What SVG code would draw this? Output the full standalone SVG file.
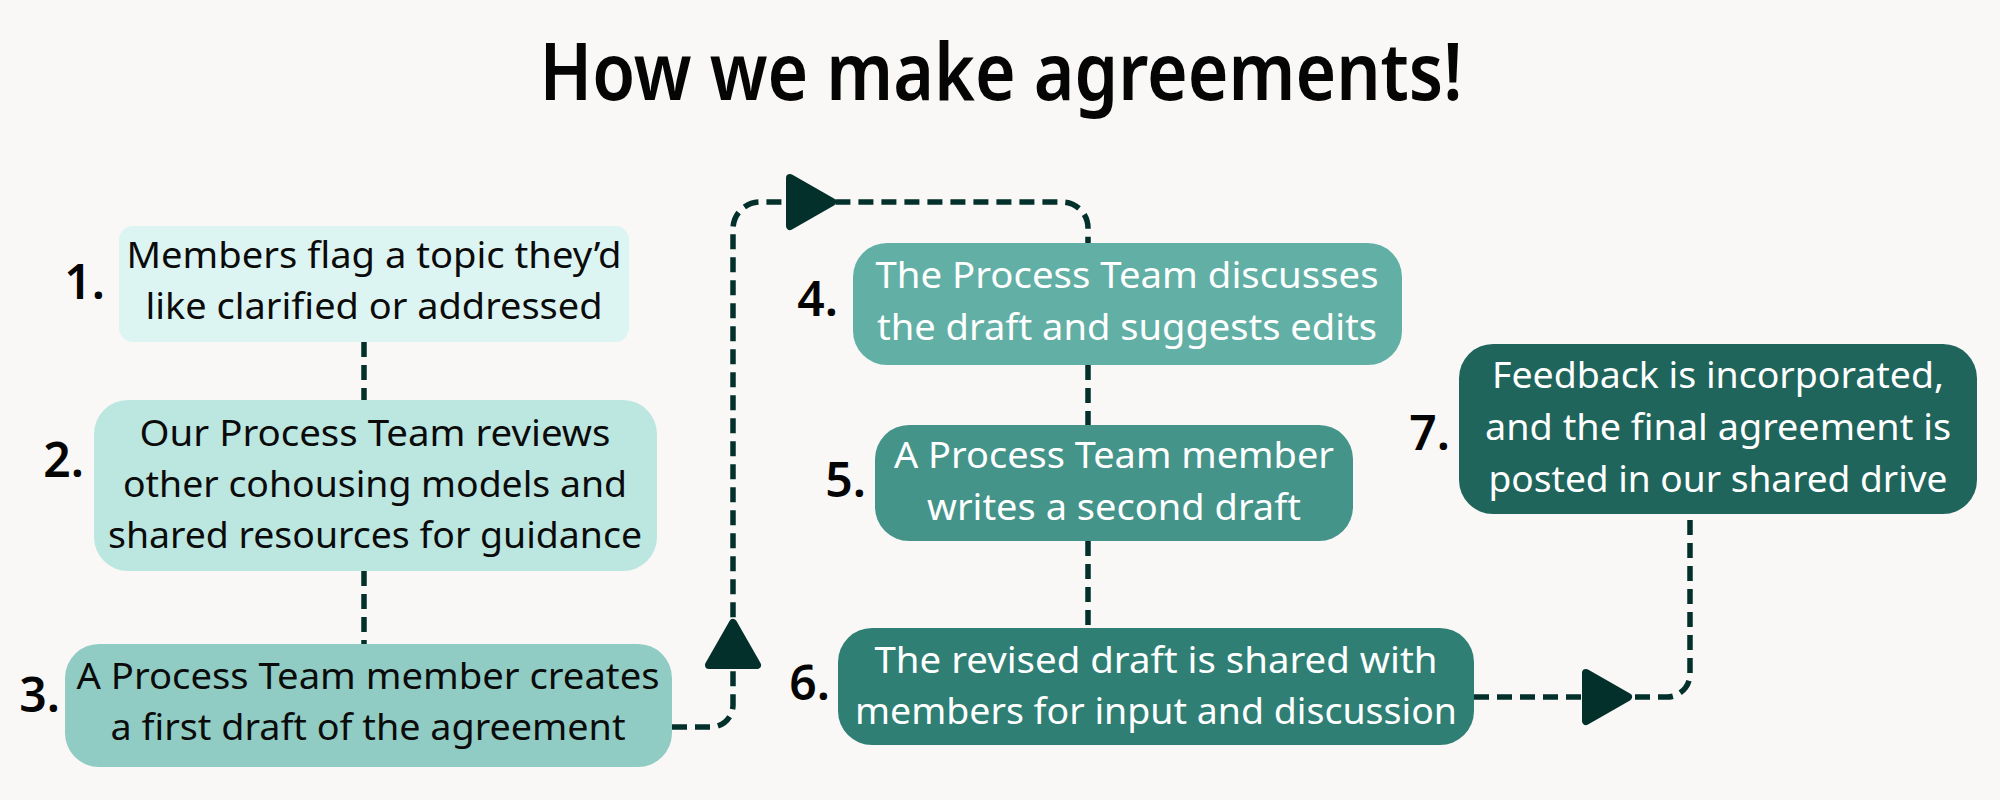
<svg xmlns="http://www.w3.org/2000/svg" width="2000" height="800" viewBox="0 0 2000 800">
<style>
.bg{fill:#F9F8F6}
.title{font-family:"Noto Sans",Lato,sans-serif;font-size:80px;font-weight:600;fill:#050505}
.num{font-family:"Noto Sans",Lato,sans-serif;font-size:48px;font-weight:600;fill:#050505;text-anchor:end}
.t{font-family:"Noto Sans",Lato,sans-serif;font-size:36px;text-anchor:middle}
.dk{fill:#0b0b0b}
.lt{fill:#FFFFFF}
.con{fill:none;stroke:#03302A;stroke-width:5.5;stroke-dasharray:15 8}
.arr{fill:#03302A;stroke:#03302A;stroke-width:8;stroke-linejoin:round}
</style>
<defs>
<path id="arrowR" d="M-21 -24 L21 0 L-21 24 Z"/>
</defs>
<rect class="bg" x="0" y="0" width="2000" height="800"/>
<text class="title" x="1001" y="100" text-anchor="middle" textLength="923" lengthAdjust="spacingAndGlyphs">How we make agreements!</text>

<g id="connectors">
<path class="con" d="M364 342 V400"/>
<path class="con" d="M364 571 V644"/>
<path class="con" d="M672 727 H711 A22 22 0 0 0 733 705 V229 A27 27 0 0 1 760 202 H1062 A26 26 0 0 1 1088 228 V243"/>
<path class="con" d="M1088 365 V425"/>
<path class="con" d="M1088 541 V628"/>
<path class="con" d="M1474 697 H1667 A23 23 0 0 0 1690 674 V514"/>
<use href="#arrowR" class="arr" transform="translate(733 644) rotate(-90)"/>
<use href="#arrowR" class="arr" transform="translate(811 202)"/>
<use href="#arrowR" class="arr" transform="translate(1607 697)"/>
</g>

<g id="node1">
<rect x="119" y="226" width="510" height="116" rx="14" fill="#DDF5F2"/>
<text class="num" x="105" y="299">1.</text>
<text class="t dk" x="374" y="268" textLength="495" lengthAdjust="spacingAndGlyphs">Members flag a topic they’d</text>
<text class="t dk" x="374" y="319" textLength="457" lengthAdjust="spacingAndGlyphs">like clarified or addressed</text>
</g>

<g id="node2">
<rect x="94" y="400" width="563" height="171" rx="34" fill="#BCE6E0"/>
<text class="num" x="84" y="477">2.</text>
<text class="t dk" x="375" y="446" textLength="471" lengthAdjust="spacingAndGlyphs">Our Process Team reviews</text>
<text class="t dk" x="375" y="497" textLength="504" lengthAdjust="spacingAndGlyphs">other cohousing models and</text>
<text class="t dk" x="375" y="548" textLength="534" lengthAdjust="spacingAndGlyphs">shared resources for guidance</text>
</g>

<g id="node3">
<rect x="65" y="644" width="607" height="123" rx="34" fill="#90CCC3"/>
<text class="num" x="60" y="712">3.</text>
<text class="t dk" x="368" y="689" textLength="583" lengthAdjust="spacingAndGlyphs">A Process Team member creates</text>
<text class="t dk" x="368" y="740" textLength="515" lengthAdjust="spacingAndGlyphs">a first draft of the agreement</text>
</g>

<g id="node4">
<rect x="853" y="243" width="549" height="122" rx="34" fill="#62B0A5"/>
<text class="num" x="838" y="316">4.</text>
<text class="t lt" x="1127" y="288" textLength="503" lengthAdjust="spacingAndGlyphs">The Process Team discusses</text>
<text class="t lt" x="1127" y="340" textLength="500" lengthAdjust="spacingAndGlyphs">the draft and suggests edits</text>
</g>

<g id="node5">
<rect x="875" y="425" width="478" height="116" rx="34" fill="#44948A"/>
<text class="num" x="866" y="497">5.</text>
<text class="t lt" x="1114" y="468" textLength="440" lengthAdjust="spacingAndGlyphs">A Process Team member</text>
<text class="t lt" x="1114" y="520" textLength="374" lengthAdjust="spacingAndGlyphs">writes a second draft</text>
</g>

<g id="node6">
<rect x="838" y="628" width="636" height="117" rx="34" fill="#2F7F75"/>
<text class="num" x="830" y="700">6.</text>
<text class="t lt" x="1156" y="673" textLength="563" lengthAdjust="spacingAndGlyphs">The revised draft is shared with</text>
<text class="t lt" x="1156" y="724" textLength="602" lengthAdjust="spacingAndGlyphs">members for input and discussion</text>
</g>

<g id="node7">
<rect x="1459" y="344" width="518" height="170" rx="34" fill="#20655C"/>
<text class="num" x="1450" y="450">7.</text>
<text class="t lt" x="1718" y="388" textLength="452" lengthAdjust="spacingAndGlyphs">Feedback is incorporated,</text>
<text class="t lt" x="1718" y="440" textLength="466" lengthAdjust="spacingAndGlyphs">and the final agreement is</text>
<text class="t lt" x="1718" y="492" textLength="459" lengthAdjust="spacingAndGlyphs">posted in our shared drive</text>
</g>
</svg>
